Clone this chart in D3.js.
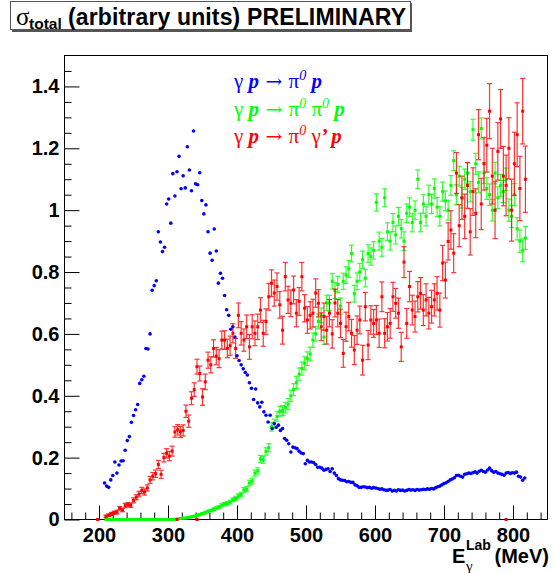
<!DOCTYPE html>
<html>
<head>
<meta charset="utf-8">
<script src="https://cdn.jsdelivr.net/npm/d3@7"></script>
<style>
  body { margin: 0; background: #fff; }
</style>
</head>
<body>
<div class="chart"></div>
<script>
// gamma p -> pi0 p, bins of 3 MeV from 208 MeV
const blueStart = 208
const blueStep = 3
const blueVal = [
  0.118, 0.108, 0.104, 0.128, 0.142, 0.186, 0.150, 0.176, 0.189, 0.190,
  0.224, 0.255, 0.268, 0.314, 0.336, 0.355, 0.372, 0.440, 0.452, 0.463,
  0.553, 0.551, 0.600, 0.741, 0.756, 0.772, 0.930, 0.897, 0.866, 0.880,
  1.020, 1.036, 0.958, 1.118, 1.046, 1.124, 1.174, 1.069, 1.111, 1.072,
  1.205, 1.130, 1.063, 1.256, 1.085, 1.082, 1.121, 1.031, 0.988, 1.017,
  0.930, 0.861, 0.838, 0.939, 0.868, 0.764, 0.796, 0.780, 0.724, 0.678,
  0.660, 0.615, 0.623, 0.590, 0.529, 0.514, 0.500, 0.487, 0.475, 0.467,
  0.442, 0.424, 0.388, 0.422, 0.377, 0.364, 0.379, 0.348, 0.337, 0.315,
  0.337, 0.294, 0.310, 0.298, 0.305, 0.288, 0.294, 0.262, 0.256, 0.245,
  0.218, 0.234, 0.232, 0.229, 0.221, 0.215, 0.213, 0.180, 0.191, 0.186,
  0.186, 0.184, 0.178, 0.169, 0.169, 0.166, 0.159, 0.162, 0.164, 0.155,
  0.164, 0.150, 0.142, 0.132, 0.128, 0.127, 0.126, 0.122, 0.123, 0.120,
  0.120, 0.112, 0.109, 0.104, 0.104, 0.106, 0.105, 0.103, 0.104, 0.101,
  0.103, 0.102, 0.100, 0.098, 0.099, 0.096, 0.094, 0.095, 0.097, 0.092,
  0.094, 0.092, 0.096, 0.094, 0.095, 0.092, 0.094, 0.097, 0.095, 0.096,
  0.094, 0.097, 0.095, 0.096, 0.098, 0.097, 0.099, 0.098, 0.100, 0.099,
  0.103, 0.106, 0.108, 0.112, 0.116, 0.119, 0.123, 0.128, 0.131, 0.135,
  0.142, 0.143, 0.140, 0.137, 0.146, 0.148, 0.150, 0.149, 0.151, 0.154,
  0.150, 0.156, 0.159, 0.155, 0.153, 0.160, 0.166, 0.158, 0.153, 0.155,
  0.150, 0.148, 0.146, 0.143, 0.150, 0.152, 0.149, 0.151, 0.150, 0.153,
  0.140, 0.137, 0.127, 0.134
]

// gamma p -> pi0 gamma' p, bins of 4 MeV from 210 MeV
const redStart = 210
const redStep = 4
const redVal = [
  0.010, 0.014, 0.018, 0.022, 0.024, 0.036, 0.031, 0.045, 0.048, 0.046,
  0.062, 0.072, 0.082, 0.094, 0.089, 0.102, 0.128, 0.140, 0.148, 0.178,
  0.146, 0.200, 0.214, 0.205, 0.221, 0.283, 0.290, 0.283, 0.288, 0.350,
  0.318, 0.392, 0.420, 0.494, 0.472, 0.396, 0.445, 0.515, 0.500, 0.553,
  0.528, 0.520, 0.580, 0.580, 0.553, 0.562, 0.602, 0.553, 0.660, 0.602,
  0.580, 0.623, 0.558, 0.623, 0.602, 0.623, 0.677, 0.602, 0.640, 0.720,
  0.764, 0.732, 0.753, 0.694, 0.612, 0.785, 0.710, 0.699, 0.742, 0.667,
  0.705, 0.785, 0.683, 0.645, 0.660, 0.667, 0.732, 0.699, 0.623, 0.656,
  0.612, 0.667, 0.600, 0.700, 0.667, 0.634, 0.537, 0.623, 0.656, 0.602,
  0.548, 0.612, 0.645, 0.515, 0.688, 0.564, 0.645, 0.634, 0.645, 0.602,
  0.720, 0.602, 0.623, 0.634, 0.720, 0.699, 0.667, 0.558, 0.832, 0.634,
  0.753, 0.677, 0.656, 0.720, 0.731, 0.677, 0.710, 0.667, 0.688, 0.710,
  0.731, 0.677, 0.829, 0.774, 0.899, 0.936, 0.861, 1.120, 0.950, 1.040,
  0.980, 1.080, 0.930, 1.060, 0.990, 1.244, 1.020, 1.150, 1.210, 1.320,
  1.110, 1.000, 1.190, 1.295, 1.110, 1.080, 1.200, 1.000, 1.150, 1.244,
  1.070, 1.320, 1.100
]
const redErr = [
  0.004, 0.004, 0.005, 0.005, 0.006, 0.006, 0.006, 0.007, 0.007, 0.007,
  0.008, 0.008, 0.009, 0.010, 0.010, 0.010, 0.011, 0.012, 0.012, 0.013,
  0.013, 0.014, 0.015, 0.015, 0.016, 0.017, 0.017, 0.018, 0.018, 0.020,
  0.020, 0.021, 0.022, 0.024, 0.024, 0.027, 0.025, 0.026, 0.026, 0.028,
  0.028, 0.029, 0.029, 0.030, 0.030, 0.031, 0.031, 0.032, 0.040, 0.038,
  0.036, 0.038, 0.040, 0.039, 0.040, 0.041, 0.040, 0.042, 0.041, 0.043,
  0.043, 0.042, 0.044, 0.043, 0.045, 0.046, 0.044, 0.043, 0.045, 0.044,
  0.045, 0.046, 0.044, 0.043, 0.044, 0.045, 0.046, 0.044, 0.045, 0.044,
  0.045, 0.044, 0.046, 0.045, 0.044, 0.046, 0.045, 0.047, 0.046, 0.045,
  0.047, 0.046, 0.045, 0.048, 0.046, 0.047, 0.046, 0.045, 0.047, 0.046,
  0.048, 0.047, 0.046, 0.048, 0.047, 0.048, 0.049, 0.047, 0.050, 0.048,
  0.049, 0.048, 0.050, 0.049, 0.051, 0.050, 0.052, 0.051, 0.053, 0.052,
  0.054, 0.055, 0.057, 0.058, 0.060, 0.062, 0.063, 0.066, 0.068, 0.070,
  0.072, 0.074, 0.075, 0.077, 0.079, 0.081, 0.083, 0.085, 0.087, 0.089,
  0.090, 0.092, 0.093, 0.095, 0.096, 0.098, 0.099, 0.100, 0.102, 0.103,
  0.104, 0.106, 0.107
]
// empty red bins drawn on the zero line
const redZeroE = [198, 313, 342, 790]

// gamma p -> pi0 pi0 p, bins of 4 MeV from 210 MeV
const greenStart = 210
const greenStep = 4
const greenVal = [
  0, 0, 0, 0, 0, 0, 0, 0, 0, 0,
  0, 0, 0, 0, 0, 0, 0, 0, 0, 0,
  0, 0, 0, 0, 0, 0.001, 0.002, 0.003, 0.004, 0.005,
  0.007, 0.009, 0.011, 0.013, 0.016, 0.019, 0.022, 0.026, 0.029, 0.033,
  0.037, 0.040, 0.046, 0.050, 0.052, 0.056, 0.064, 0.068, 0.076, 0.081,
  0.095, 0.098, 0.118, 0.124, 0.150, 0.157, 0.196, 0.193, 0.220, 0.232,
  0.300, 0.309, 0.333, 0.350, 0.352, 0.362, 0.373, 0.400, 0.420, 0.443,
  0.470, 0.488, 0.505, 0.520, 0.535, 0.580, 0.600, 0.640, 0.660, 0.590,
  0.700, 0.700, 0.770, 0.740, 0.760, 0.690, 0.770, 0.790, 0.810, 0.860,
  0.730, 0.770, 0.800, 0.840, 0.780, 0.860, 0.850, 0.870, 1.025, 0.900,
  0.880, 1.040, 0.930, 0.900, 0.960, 0.920, 0.980, 0.940, 0.900, 0.990,
  1.010, 0.960, 1.000, 1.100, 0.960, 1.020, 0.980, 1.050, 1.020, 1.070,
  1.010, 0.980, 1.060, 1.030, 1.000, 1.080, 1.160, 1.050, 1.110, 1.040,
  1.100, 1.120, 1.060, 1.260, 1.150, 1.090, 1.264, 1.120, 1.070, 1.050,
  1.000, 1.120, 1.040, 1.080, 1.060, 1.100, 1.000, 0.980, 1.050, 0.940,
  0.900, 0.870, 0.910
]
const greenErr = [
  0, 0, 0, 0, 0, 0, 0, 0, 0, 0,
  0, 0, 0, 0, 0, 0, 0, 0, 0, 0,
  0, 0, 0, 0, 0, 0.001, 0.001, 0.001, 0.001, 0.002,
  0.002, 0.002, 0.002, 0.003, 0.003, 0.003, 0.003, 0.004, 0.004, 0.004,
  0.004, 0.005, 0.005, 0.005, 0.006, 0.006, 0.006, 0.007, 0.007, 0.007,
  0.008, 0.008, 0.009, 0.009, 0.010, 0.010, 0.011, 0.011, 0.012, 0.013,
  0.014, 0.015, 0.015, 0.016, 0.016, 0.017, 0.018, 0.018, 0.019, 0.020,
  0.020, 0.021, 0.021, 0.022, 0.022, 0.023, 0.023, 0.024, 0.024, 0.024,
  0.025, 0.025, 0.025, 0.026, 0.026, 0.026, 0.026, 0.027, 0.027, 0.027,
  0.027, 0.027, 0.028, 0.028, 0.028, 0.028, 0.028, 0.028, 0.028, 0.029,
  0.029, 0.029, 0.029, 0.029, 0.029, 0.029, 0.029, 0.030, 0.030, 0.030,
  0.030, 0.030, 0.030, 0.030, 0.030, 0.030, 0.031, 0.031, 0.031, 0.031,
  0.031, 0.031, 0.031, 0.032, 0.032, 0.032, 0.032, 0.032, 0.032, 0.033,
  0.033, 0.033, 0.033, 0.034, 0.034, 0.034, 0.034, 0.034, 0.035, 0.035,
  0.035, 0.035, 0.035, 0.035, 0.036, 0.036, 0.036, 0.036, 0.036, 0.036,
  0.036, 0.037, 0.037
]

const xTicks = [200, 300, 400, 500, 600, 700, 800]
const yTicks = [0, 0.2, 0.4, 0.6, 0.8, 1, 1.2, 1.4]

const width = 554
const height = 573
const margin = {top: 55.5, left: 64.5}
const w = 483
const h = 464

const sans = 'Liberation Sans, Arial, Helvetica, sans-serif'
const serif = 'Liberation Serif, Times New Roman, serif'

const svg = d3.select('.chart').append('svg')
  .attr('width', width)
  .attr('height', height)

svg.append('rect').attr('width', width).attr('height', height).attr('fill', '#fff')

const g = svg.append('g')
  .attr('transform', `translate(${margin.left}, ${margin.top})`)

const x = d3.scaleLinear().domain([150, 850]).range([0, w])
const y = d3.scaleLinear().domain([0, 1.5]).range([h, 0])

const blue = blueVal.map((v, i) => ({e: blueStart + i * blueStep, v: v}))
const red = redVal.map((v, i) => ({e: redStart + i * redStep, v: v, err: redErr[i]}))
const green = greenVal.map((v, i) => ({e: greenStart + i * greenStep, v: v, err: greenErr[i]}))

// axes, ticks drawn inside the frame
const xMinor = d3.range(160, 850, 20).filter(d => d % 100 != 0)
const yMinor = d3.range(0.05, 1.5, 0.05).filter(d => Math.abs(d * 5 - Math.round(d * 5)) > 0.01)

g.append('g')
  .attr('transform', `translate(0, ${h})`)
  .call(d3.axisBottom(x).tickValues(xMinor).tickSize(-7).tickFormat(''))
  .call(a => a.select('.domain').remove())

const xAxis = g.append('g')
  .attr('transform', `translate(0, ${h})`)
  .call(d3.axisBottom(x).tickValues(xTicks).tickSize(-14).tickPadding(8).tickFormat(d3.format('d')))
  .call(a => a.select('.domain').remove())

g.append('g')
  .call(d3.axisLeft(y).tickValues(yMinor).tickSize(-7).tickFormat(''))
  .call(a => a.select('.domain').remove())

const yAxis = g.append('g')
  .call(d3.axisLeft(y).tickValues(yTicks).tickSize(-15).tickPadding(5).tickFormat(d => String(d)))
  .call(a => a.select('.domain').remove())

g.selectAll('.tick line').attr('stroke', '#000')
;[xAxis, yAxis].forEach(a => a.selectAll('text')
  .attr('font-family', sans)
  .attr('font-size', 20)
  .attr('font-weight', 'bold')
  .attr('fill', '#000'))

g.append('rect')
  .attr('width', w)
  .attr('height', h)
  .attr('fill', 'none')
  .attr('stroke', '#000')

// error bars with caps
function drawErrors(data, color) {
  const withErr = data.filter(d => d.err > 0)
  const eg = g.append('g').attr('stroke', color).attr('stroke-width', 1.2).attr('opacity', 0.8)
  eg.selectAll('line.bar')
    .data(withErr)
    .enter()
    .append('line')
    .attr('x1', d => x(d.e))
    .attr('x2', d => x(d.e))
    .attr('y1', d => y(d.v - d.err))
    .attr('y2', d => y(d.v + d.err))
  eg.selectAll('line.lo')
    .data(withErr)
    .enter()
    .append('line')
    .attr('x1', d => x(d.e) - 2.5)
    .attr('x2', d => x(d.e) + 2.5)
    .attr('y1', d => y(d.v - d.err))
    .attr('y2', d => y(d.v - d.err))
  eg.selectAll('line.hi')
    .data(withErr)
    .enter()
    .append('line')
    .attr('x1', d => x(d.e) - 2.5)
    .attr('x2', d => x(d.e) + 2.5)
    .attr('y1', d => y(d.v + d.err))
    .attr('y2', d => y(d.v + d.err))
}

function drawSquares(data, color) {
  g.append('g').selectAll('rect')
    .data(data)
    .enter()
    .append('rect')
    .attr('x', d => x(d.e) - 1.5)
    .attr('y', d => y(d.v) - 1.5)
    .attr('width', 3)
    .attr('height', 3)
    .attr('fill', color)
}

drawErrors(green, '#00ff00')
drawSquares(green, '#00ff00')

drawErrors(red, '#ff0000')
drawSquares(red, '#ff0000')
drawSquares(redZeroE.map(e => ({e: e, v: 0})), '#ff0000')

g.append('g').selectAll('circle')
  .data(blue)
  .enter()
  .append('circle')
  .attr('cx', d => x(d.e))
  .attr('cy', d => y(d.v))
  .attr('r', 1.8)
  .attr('fill', '#0000ff')

// title box
svg.append('rect')
  .attr('x', 12).attr('y', 3).attr('width', 400).attr('height', 29)
  .attr('fill', '#555')
svg.append('rect')
  .attr('x', 10.5).attr('y', 1.5).attr('width', 400).attr('height', 28)
  .attr('fill', '#fff').attr('stroke', '#555')

const title = svg.append('text')
  .attr('y', 25)
  .attr('font-family', sans)
  .attr('font-weight', 'bold')
  .attr('font-size', 23)
title.append('tspan').attr('x', 16).attr('font-family', serif).attr('font-weight', 'normal').attr('font-size', 25).text('σ')
title.append('tspan').attr('x', 29).attr('font-size', 15.5).attr('dy', 4).text('total')
title.append('tspan').attr('x', 68).attr('dy', -4).attr('textLength', 338).text('(arbitrary units) PRELIMINARY')

// legend
const legend = [
  {color: '#0000ff', y: 88, parts: [['γ ', 'n'], ['p', 'b'], [' → ', 'a'], ['π', 'n'], ['0', 's'], [' p', 'b']]},
  {color: '#00ff00', y: 116, parts: [['γ ', 'n'], ['p', 'b'], [' → ', 'a'], ['π', 'n'], ['0', 's'], [' π', 'n'], ['0', 's'], [' p', 'b']]},
  {color: '#ff0000', y: 143, parts: [['γ ', 'n'], ['p', 'b'], [' → ', 'a'], ['π', 'n'], ['0', 's'], [' γ', 'n'], ['’', 'b'], [' p', 'b']]}
]

legend.forEach(l => {
  const t = svg.append('text')
    .attr('x', 234)
    .attr('y', l.y)
    .attr('font-family', serif)
    .attr('font-size', 21)
    .attr('fill', l.color)
  let up = false
  l.parts.forEach(p => {
    const s = t.append('tspan').text(p[0])
    if (p[1] == 'b') s.attr('font-weight', 'bold').attr('font-style', 'italic')
    if (p[1] == 'a') s.attr('font-family', 'DejaVu Serif, serif').attr('font-size', 20)
    if (p[1] == 's') {
      s.attr('font-style', 'italic').attr('font-size', 14).attr('dy', -8)
      up = true
    } else if (up) {
      s.attr('dy', 8)
      up = false
    }
  })
})

// x axis title
svg.append('text').attr('x', 452).attr('y', 563)
  .attr('font-family', sans).attr('font-weight', 'bold').attr('font-size', 20).text('E')
svg.append('text').attr('x', 466).attr('y', 550)
  .attr('font-family', sans).attr('font-weight', 'bold').attr('font-size', 14).text('Lab')
svg.append('text').attr('x', 466).attr('y', 571)
  .attr('font-family', serif).attr('font-size', 15).text('γ')
svg.append('text').attr('x', 549).attr('y', 563).attr('text-anchor', 'end')
  .attr('font-family', sans).attr('font-weight', 'bold').attr('font-size', 20).text('(MeV)')
</script>
</body>
</html>
